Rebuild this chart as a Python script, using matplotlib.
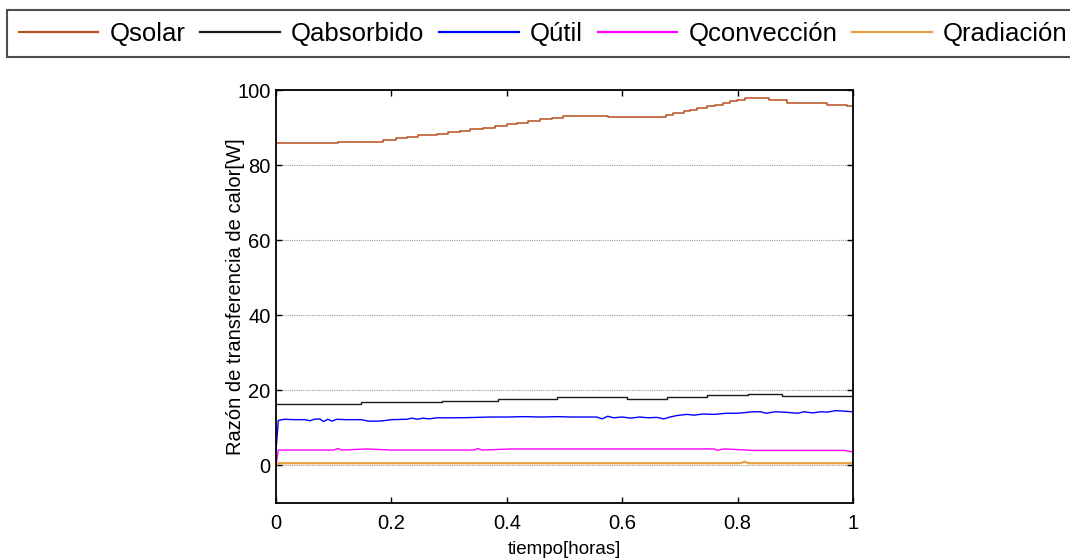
import numpy as np
import matplotlib
matplotlib.use("Agg")
import matplotlib.pyplot as plt

plt.rcParams['font.family'] = ['Liberation Sans', 'DejaVu Sans']

# ---- datos ----
t_solar = [0.0, 0.107, 0.185, 0.208, 0.227, 0.246, 0.279, 0.298, 0.319, 0.336,
           0.359, 0.380, 0.400, 0.418, 0.437, 0.458, 0.478, 0.497, 0.575, 0.676,
           0.688, 0.707, 0.717, 0.729, 0.747, 0.761, 0.775, 0.787, 0.799, 0.813,
           0.827, 0.854, 0.886, 0.955, 0.99, 1.0]
q_solar = [85.9, 86.2, 86.6, 87.1, 87.6, 88.1, 88.4, 88.8, 89.2, 89.6,
           90.0, 90.5, 90.9, 91.3, 91.7, 92.2, 92.6, 93.1, 92.7, 93.4,
           93.8, 94.4, 94.7, 95.2, 95.7, 96.1, 96.6, 97.0, 97.4, 97.9,
           97.9, 97.3, 96.6, 96.1, 95.7, 95.7]

t_abs = [0.0, 0.147, 0.288, 0.385, 0.487, 0.608, 0.677, 0.747, 0.818, 0.877, 1.0]
q_abs = [16.5, 16.8, 17.2, 17.8, 18.2, 17.7, 18.1, 18.7, 19.0, 18.6, 18.6]

t_util = [0.0, 0.004, 0.015, 0.03, 0.05, 0.059, 0.066, 0.076, 0.082, 0.09, 0.097,
          0.105, 0.12, 0.148, 0.16, 0.175, 0.186, 0.20, 0.227, 0.235, 0.245,
          0.255, 0.265, 0.279, 0.30, 0.32, 0.348, 0.37, 0.40, 0.43, 0.46, 0.49,
          0.51, 0.53, 0.556, 0.565, 0.575, 0.585, 0.60, 0.615, 0.63, 0.645,
          0.66, 0.672, 0.683, 0.695, 0.712, 0.725, 0.74, 0.76, 0.78, 0.80,
          0.827, 0.84, 0.85, 0.865, 0.88, 0.905, 0.915, 0.93, 0.945, 0.955, 0.97, 1.0]
q_util = [4.0, 12.0, 12.3, 12.2, 12.2, 11.9, 12.3, 12.4, 11.7, 12.3, 11.8,
          12.3, 12.2, 12.2, 11.8, 11.8, 11.9, 12.2, 12.3, 12.6, 12.3,
          12.6, 12.4, 12.7, 12.7, 12.7, 12.8, 12.9, 12.9, 13.0, 12.9, 13.0,
          12.9, 12.9, 12.9, 12.4, 13.1, 12.7, 12.9, 12.6, 12.9, 12.7,
          12.8, 12.4, 12.9, 13.3, 13.6, 13.4, 13.7, 13.6, 13.9, 13.9,
          14.3, 14.3, 13.9, 14.3, 14.2, 13.9, 14.3, 14.0, 14.3, 14.2, 14.6, 14.3]

t_conv = [0.0, 0.004, 0.100, 0.107, 0.114, 0.157, 0.200, 0.343, 0.350, 0.357,
          0.409, 0.760, 0.765, 0.772, 0.778, 0.827, 0.985, 1.0]
q_conv = [0.0, 4.1, 4.1, 4.5, 4.1, 4.4, 4.1, 4.1, 4.5, 4.1,
          4.4, 4.4, 4.0, 4.3, 4.4, 4.0, 4.0, 3.6]

t_rad = [0.0, 0.004, 0.805, 0.812, 0.819, 1.0]
q_rad = [0.0, 0.6, 0.6, 1.0, 0.6, 0.6]

etiquetas = ['Qsolar', 'Qabsorbido', 'Qútil', 'Qconvección', 'Qradiación']
colores = ['#b5501f', '#1a1a1a', '#0000ff', '#ff00ff', '#e8a040']

fig = plt.figure(figsize=(10.7, 5.59), dpi=100)
ax = fig.add_axes([276 / 1070, 1 - 503 / 559, 577 / 1070, 413 / 559])

l1, = ax.plot(t_solar, q_solar, color=colores[0], lw=1.1, drawstyle='steps-post')
l2, = ax.plot(t_abs, q_abs, color=colores[1], lw=1.0, drawstyle='steps-post')
l3, = ax.plot(t_util, q_util, color=colores[2], lw=1.0)
l4, = ax.plot(t_conv, q_conv, color=colores[3], lw=1.0)
l5, = ax.plot(t_rad, q_rad, color=colores[4], lw=1.6)

ax.set_xlim(0, 1)
ax.set_ylim(-10, 100)
ax.set_xticks([0, 0.2, 0.4, 0.6, 0.8, 1])
ax.set_xticklabels(['0', '0.2', '0.4', '0.6', '0.8', '1'])
ax.set_yticks([0, 20, 40, 60, 80, 100])
ax.yaxis.grid(True, color='#999999', linestyle=(0, (1, 1)), lw=0.8)
ax.tick_params(direction='in', top=True, right=True, length=4, width=1,
               labelsize=14.5)
ax.tick_params(axis='x', pad=8)
ax.tick_params(axis='y', pad=4)
for s in ax.spines.values():
    s.set_linewidth(1.3)

ax.set_xlabel('tiempo[horas]', fontsize=13.5, labelpad=6)
ax.set_ylabel('Razón de transferencia de calor[W]', fontsize=14.5, labelpad=-6)

leg = fig.legend([l1, l2, l3, l4, l5], etiquetas, loc='upper left',
                 bbox_to_anchor=(7 / 1070, 1 - 10 / 559), ncol=5, fontsize=18.5,
                 frameon=True, fancybox=False, handlelength=3.1,
                 handletextpad=0.43, columnspacing=0.58, borderaxespad=0,
                 borderpad=0.45)
leg.get_frame().set_edgecolor('#222222')
leg.get_frame().set_linewidth(1.5)
for h in leg.get_lines():
    h.set_linewidth(1.6)

fig.savefig('out.png', dpi=100)
